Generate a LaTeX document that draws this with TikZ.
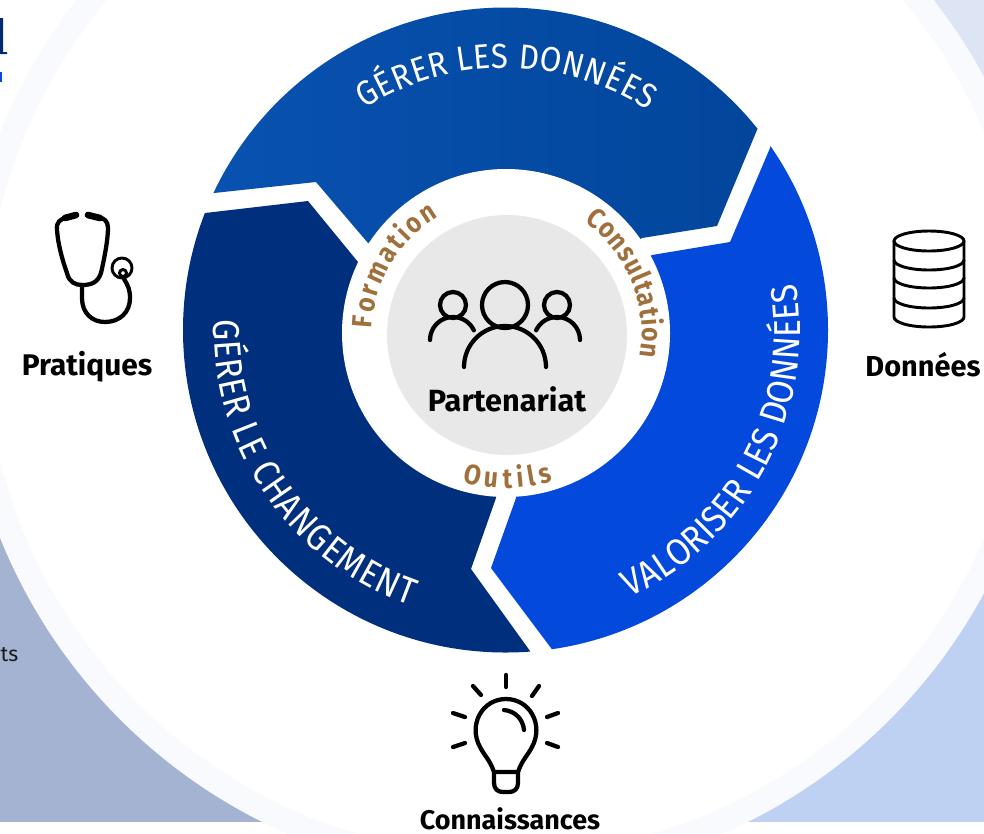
\documentclass[tikz,border=0pt]{standalone}
\usepackage{fontspec}
\usetikzlibrary{decorations.text}
\setmainfont{Fira Sans}
\newfontfamily\ringfont[FakeStretch=0.9]{Fira Sans}
\newfontfamily\brownfont[FakeStretch=0.88]{Fira Sans}
\definecolor{bgleft}{HTML}{A3B3D1}
\definecolor{bgright}{HTML}{BFD1F2}
\definecolor{bgtop}{HTML}{DDE5F4}
\definecolor{band}{HTML}{F8FAFD}
\definecolor{segleft}{HTML}{002F7E}
\definecolor{segright}{HTML}{0349DC}
\definecolor{segtopa}{HTML}{0A54B4}
\definecolor{segtopb}{HTML}{004396}
\definecolor{brown}{HTML}{A0703C}
\definecolor{disc}{HTML}{E8E8E8}
\tikzset{
  icon/.style={draw=black,line width=3.2pt,line cap=round,line join=round},
  thinicon/.style={draw=black,line width=2.2pt,line cap=round,line join=round},
  lab/.style={anchor=base,font=\bfseries,text=black,inner sep=0pt},
  ringtext/.style={decorate,decoration={text along path,text align={fit to path},text={#1}}}
}
\begin{document}
\begin{tikzpicture}[x=0.75pt,y=0.75pt]
\useasboundingbox (0,0) rectangle (984,-833);
\clip (0,0) rectangle (984,-833);
% background corners
\fill[bgleft] (0,-500) rectangle (300,-822);
\fill[bgright] (700,-500) rectangle (984,-822);
\fill[bgtop] (850,0) rectangle (984,-120);
\fill[band] (505,-335) circle[radius=544];
\fill[white] (505,-335) circle[radius=520];
% cropped fragments at the left edge
\node[anchor=base east,inner sep=0pt,font=\fontsize{16}{18}\selectfont,text=black!90] (cut) at (18.5,-661) {ts};
\fill[segleft!90!black] (0,-18) rectangle (3,-52) (0,-52) rectangle (7,-54);
\fill[segright] (0,-72) rectangle (2,-82);
% ring segments
\begin{scope}
\clip (505.5,-330) circle[radius=322.5];
\shade[left color=segtopa,right color=segtopb]
  (505,-330) -- (368,-243) -- (316,-182) -- (214,-193) -- (100,-205) -- (100,100) -- (900,100) -- (810,-16) -- (757,-130) -- (717,-226) -- (642,-238) -- cycle;
\fill[segleft]
  (505,-330) -- (358,-262) -- (308,-201) -- (205,-213) -- (100,-225) -- (100,-800) -- (600,-800) -- (530,-651) -- (471,-569) -- (496,-498) -- cycle;
\fill[segright]
  (505,-330) -- (516,-498) -- (491,-568) -- (551,-648) -- (641,-768) -- (900,-768) -- (900,54) -- (810,54) -- (770,-148) -- (730,-242) -- (652,-255) -- cycle;
\end{scope}
\fill[white] (506,-333) circle[radius=164];
\fill[disc] (507,-335) circle[radius=120];
% ring labels
\path[ringtext={|\ringfont\fontsize{26}{30}\selectfont\color{white}|GÉRER LES DONNÉES}]
  (505,-330) ++(122.5:262) arc[start angle=122.5,end angle=57,radius=262];
\path[ringtext={|\ringfont\fontsize{28}{32}\selectfont\color{white}|VALORISER LES DONNÉES}]
  (505,-330) ++(-65:295) arc[start angle=-65,end angle=9,radius=295];
\path[ringtext={|\ringfont\fontsize{28}{32}\selectfont\color{white}|GÉRER LE CHANGEMENT}]
  (505,-330) ++(178:291) arc[start angle=178,end angle=251,radius=291];
% brown labels
\path[ringtext={|\brownfont\bfseries\fontsize{21}{24}\selectfont\color{brown}|Formation}]
  (506,-333) ++(178:134) arc[start angle=178,end angle=120,radius=134];
\path[ringtext={|\brownfont\bfseries\fontsize{21}{24}\selectfont\color{brown}|Consultation}]
  (506,-333) ++(55:136) arc[start angle=55,end angle=-10,radius=136];
\path[ringtext={|\brownfont\bfseries\fontsize{21}{24}\selectfont\color{brown}|Outils}]
  (506,-333) ++(253.7:155) arc[start angle=253.7,end angle=287.5,radius=155];
% partnership icon
\draw[icon] (505,-305) circle[radius=23];
\draw[icon] (464,-367) arc[start angle=180,end angle=0,radius=41];
\draw[icon] (453,-305) circle[radius=13];
\draw[icon] (557,-305) circle[radius=13];
\draw[icon] (430,-340) arc[start angle=180,end angle=25,radius=23];
\draw[icon] (580,-340) arc[start angle=0,end angle=155,radius=23];
\node[lab,font=\bfseries\fontsize{23}{26}\selectfont] (part) at (507,-411) {Partenariat};
% stethoscope
\draw[icon,line width=5pt] (65,-218) -- (76,-215);
\draw[icon,line width=5pt] (88,-215) -- (100,-218);
\draw[icon] (68,-217) .. controls (60,-219) and (56,-222) .. (57,-230)
  .. controls (58,-245) and (63,-262) .. (67,-273)
  .. controls (69,-282) and (75,-285) .. (82,-285)
  .. controls (92,-285) and (98,-282) .. (101,-273)
  .. controls (104,-260) and (108,-240) .. (108,-228)
  .. controls (108,-221) and (104,-218) .. (98,-217);
\draw[icon] (82,-285) -- (82,-298) .. controls (82,-313) and (92,-322) .. (105,-322)
  .. controls (120,-322) and (130,-312) .. (130,-298) .. controls (130,-290) and (128,-285) .. (124,-279);
\draw[thinicon] (122,-268) circle[radius=10];
\draw[thinicon] (123,-273) circle[radius=3.5];
\node[lab,font=\bfseries\fontsize{22.4}{26}\selectfont] (prat) at (87,-375) {Pratiques};
% database
\draw[thinicon] (929,-241) ellipse[x radius=35,y radius=10];
\draw[thinicon] (894,-241) -- (894,-317) arc[start angle=180,end angle=360,x radius=35,y radius=10] -- (964,-241);
\draw[thinicon] (894,-260) arc[start angle=180,end angle=360,x radius=35,y radius=10];
\draw[thinicon] (894,-278) arc[start angle=180,end angle=360,x radius=35,y radius=10];
\draw[thinicon] (894,-298) arc[start angle=180,end angle=360,x radius=35,y radius=10];
\node[lab,font=\bfseries\fontsize{21.7}{26}\selectfont] (don) at (923,-376) {Données};
% light bulb
\draw[icon] (506,-675) -- (506,-687);
\draw[icon] (473,-686) -- (481,-695);
\draw[icon] (539,-686) -- (532,-696);
\draw[icon] (453,-713) -- (465,-717);
\draw[icon] (558,-713) -- (547,-717);
\draw[icon] (453,-747) -- (465,-743);
\draw[icon] (558,-747) -- (547,-743);
\draw[icon] (494,-772) .. controls (490,-760) and (484,-755) .. (480,-747)
  .. controls (468,-725) and (482,-699) .. (506,-699)
  .. controls (530,-699) and (544,-725) .. (532,-747)
  .. controls (528,-755) and (522,-760) .. (518,-772) -- cycle;
\draw[icon] (494,-772) -- (494,-783) .. controls (494,-789) and (498,-792) .. (503,-792)
  -- (509,-792) .. controls (514,-792) and (518,-789) .. (518,-783) -- (518,-772);
\fill[black] (500,-790) rectangle (512,-794);
\draw[icon] (504,-710) .. controls (515,-711) and (523,-719) .. (524,-730);
\node[lab,font=\bfseries\fontsize{20.2}{24}\selectfont] (conn) at (510,-829) {Connaissances};
\end{tikzpicture}
\end{document}
